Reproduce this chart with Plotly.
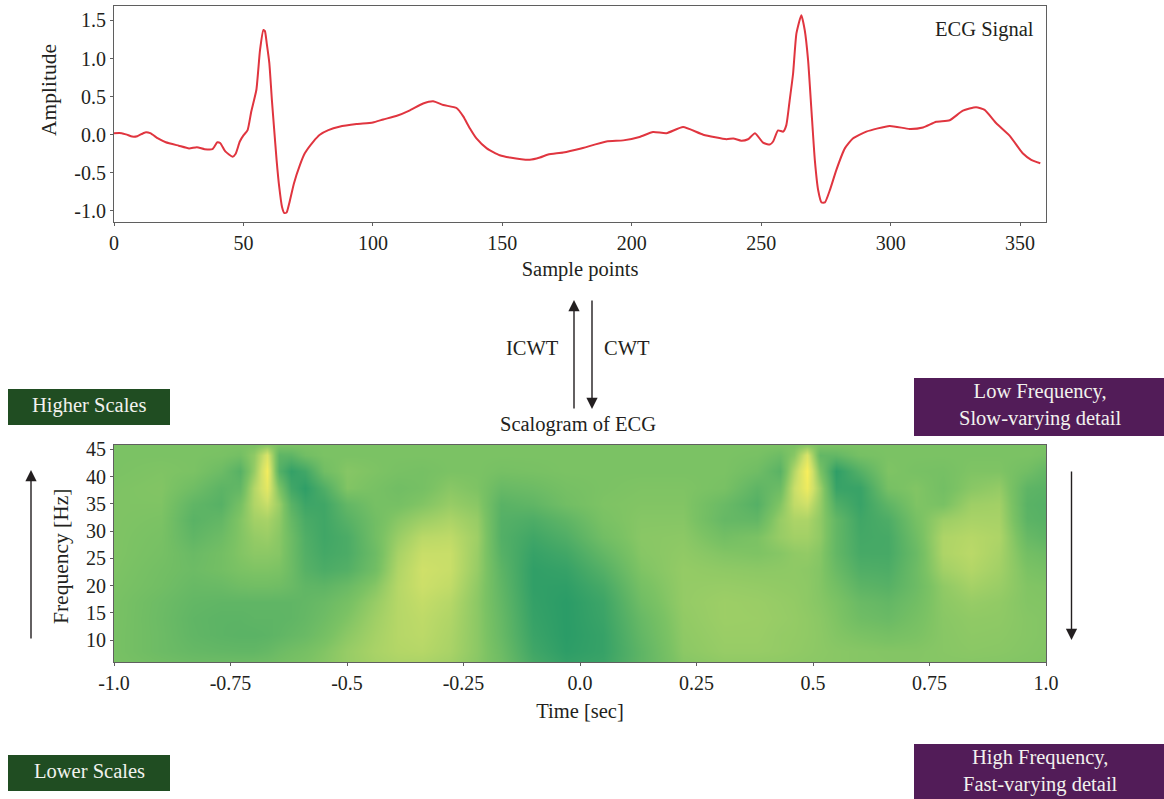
import plotly.graph_objects as go

W, H = 1164, 799

# ---------- ECG signal ----------
ecg_x = [0, 3, 5, 7, 9, 12, 14, 17, 20, 25, 29, 32, 35, 38, 39.9, 41, 43, 45.8, 47, 48.6, 50, 51.6,
         53, 55, 56.4, 57.7, 58.3, 59, 60, 61, 61.8, 62.8, 63.8, 64.9, 65.8, 66.7, 67.7, 69.5, 71.8, 73.7, 77, 79.5,
         82.8, 87, 93.7, 100, 104, 109, 114.3, 119.4, 123.3, 127.2, 132.3, 134.9, 137.5, 140, 144, 149, 152.9,
         160.6, 164.5, 167.7, 173.5, 180, 190.2, 196.7, 203, 208.2, 213.4, 219.8, 227.6, 236.6, 239.2, 242.3,
         244.9, 247.6, 250.7, 253.3, 254.6, 256.5, 258.5, 259.7, 261, 262.3, 263.6, 265.5, 266.8, 268.1, 269.4,
         270.7, 272, 273.3, 274.6, 276.5, 279, 282.3, 285.4, 290.6, 299.6, 307.3, 312.5, 317.6, 322.8, 327.9,
         333, 336.3, 340.8, 346, 351, 354.3, 357.8]
ecg_y = [0.02, 0.02, 0.0, -0.025, -0.02, 0.03, 0.02, -0.05, -0.10, -0.145, -0.18, -0.165, -0.19, -0.19, -0.10, -0.11, -0.22, -0.29, -0.25, -0.09, -0.01, 0.06,
         0.30, 0.59, 1.11, 1.375, 1.36, 1.2, 0.94, 0.45, 0.10, -0.33, -0.68, -0.95, -1.03, -1.02, -0.90, -0.64, -0.40, -0.245, -0.09, 0.0,
         0.06, 0.105, 0.14, 0.16, 0.20, 0.245, 0.32, 0.41, 0.44, 0.39, 0.35, 0.24, 0.08, -0.05, -0.18, -0.27, -0.30,
         -0.33, -0.30, -0.26, -0.235, -0.185, -0.09, -0.075, -0.03, 0.035, 0.02, 0.10, 0.0, -0.06, -0.05, -0.08,
         -0.06, 0.02, -0.105, -0.13, -0.09, 0.055, 0.04, 0.125, 0.455, 0.80, 1.33, 1.57, 1.375, 0.98, 0.32,
         -0.33, -0.73, -0.89, -0.89, -0.73, -0.465, -0.18, -0.05, 0.04, 0.115, 0.075, 0.095, 0.17, 0.19, 0.315,
         0.36, 0.325, 0.15, -0.015, -0.245, -0.33, -0.375]

# ---------- Scalogram (values read by eye, relative units) ----------
time_sec = [-1.0, -0.9, -0.83, -0.77, -0.73, -0.70, -0.672, -0.645, -0.62, -0.59, -0.55, -0.50, -0.44, -0.39, -0.34,
            -0.28, -0.22, -0.17, -0.10, -0.03, 0.05, 0.13, 0.22, 0.31, 0.38, 0.43, 0.46, 0.487, 0.515, 0.55, 0.60,
            0.66, 0.72, 0.78, 0.84, 0.90, 0.96, 1.0]
freq_hz = [6, 8, 11, 14, 17, 20, 23, 26, 29, 32, 35, 38, 41, 44, 45.8]
scal_6 = [-2, -10, -15, -15, -15, -14, -12, -8, -4, 0, 8, 20, 30, 35, 35, 28, 10, -12, -55, -75, -68, -30, 8, 15, 15, 14, 13, 12, 11, 10, 8, 7, 7, 8, 8, 7, 5, 4]
scal_8 = [-3, -15, -22, -25, -26, -26, -22, -15, -10, -5, 5, 20, 33, 40, 42, 33, 12, -15, -62, -82, -72, -30, 12, 20, 20, 18, 16, 14, 12, 10, 8, 6, 6, 9, 11, 10, 7, 5]
scal_11 = [-3, -15, -27, -32, -34, -34, -32, -28, -23, -18, -6, 12, 30, 42, 46, 35, 12, -20, -68, -85, -72, -25, 14, 22, 22, 18, 17, 15, 12, 6, 0, -5, 0, 9, 13, 12, 8, 6]
scal_14 = [-2, -16, -28, -32, -32, -30, -30, -30, -28, -23, -13, 3, 26, 42, 48, 38, 12, -22, -72, -85, -68, -20, 16, 24, 23, 20, 18, 15, 11, 3, -12, -18, -5, 10, 15, 14, 8, 6]
scal_17 = [-2, -15, -25, -28, -28, -28, -28, -28, -28, -25, -18, -5, 20, 42, 52, 42, 12, -25, -75, -85, -65, -12, 18, 24, 22, 19, 17, 13, 8, 0, -18, -25, -10, 12, 20, 16, 6, 5]
scal_20 = [0, -10, -20, -18, -12, -10, -10, -12, -18, -28, -30, -18, 8, 42, 58, 50, 15, -28, -78, -80, -55, -5, 18, 20, 18, 16, 15, 13, 6, -8, -32, -38, -15, 15, 30, 22, 5, 3]
scal_23 = [2, -8, -15, -8, 0, 3, 3, 0, -15, -38, -50, -42, -10, 38, 60, 55, 20, -32, -78, -72, -40, 3, 18, 14, 12, 13, 14, 12, 6, -18, -45, -48, -15, 28, 40, 28, 0, -5]
scal_26 = [3, -5, -18, -8, 5, 12, 12, 8, -15, -42, -58, -50, -15, 32, 55, 55, 22, -38, -72, -60, -25, 8, 15, 5, 2, 8, 15, 17, 8, -25, -55, -55, -18, 36, 45, 32, -8, -15]
scal_29 = [3, -3, -28, -15, 5, 18, 22, 10, -15, -45, -62, -50, -10, 22, 45, 48, 25, -42, -62, -45, -10, 10, 12, -8, 0, 20, 28, 28, 15, -25, -58, -55, -12, 36, 42, 36, -20, -30]
scal_32 = [3, 0, -35, -25, 5, 28, 32, 15, -22, -52, -62, -38, -10, 10, 25, 35, 20, -40, -48, -30, -2, 8, 8, -22, -25, 20, 35, 35, 15, -25, -62, -48, -5, 24, 33, 32, -32, -38]
scal_35 = [3, 3, -28, -38, -5, 38, 55, 22, -35, -65, -62, -25, -5, -5, 5, 20, 10, -35, -28, -10, 2, 5, 5, -18, -40, 5, 50, 60, 20, -45, -70, -30, 3, -2, 25, 28, -35, -40]
scal_38 = [2, 5, -12, -32, -25, 40, 80, 0, -60, -80, -45, 5, -3, -10, -5, 10, 2, -20, -15, -5, 0, 3, 3, -3, -30, -15, 55, 90, 25, -70, -70, -5, 5, -8, 10, 18, -30, -35]
scal_41 = [0, 3, 0, -15, -38, 20, 95, -40, -75, -60, -10, 8, 2, -3, -5, 0, 0, -5, -3, 0, 0, 0, 0, 0, -12, -35, 40, 100, 0, -80, -40, 3, -3, -5, 3, 3, -10, -25]
scal_44 = [0, 0, 0, -2, -8, 15, 70, -30, -30, -10, 0, 0, 0, 0, 0, 0, 0, 0, 0, 0, 0, 0, 0, 0, -3, -15, 10, 70, -25, -25, -5, 0, 0, 0, 0, 0, 0, -5]
scal_46 = [0, 0, 0, 0, 0, 0, 10, 0, 0, 0, 0, 0, 0, 0, 0, 0, 0, 0, 0, 0, 0, 0, 0, 0, 0, 0, 0, 10, 0, 0, 0, 0, 0, 0, 0, 0, 0, 0]
scal_z = [scal_6, scal_8, scal_11, scal_14, scal_17, scal_20, scal_23, scal_26, scal_29, scal_32, scal_35, scal_38, scal_41, scal_44, scal_46]

FONT = "Liberation Serif"
TXT = "#231f20"
AXC = "#5f5f5f"


def px(x):
    return x / W


def py(y):
    return 1 - y / H


def label(text, x, y, size=20.5, color=TXT, angle=0, xanchor="center"):
    return dict(text=text, x=px(x), y=py(y), xref="paper", yref="paper", showarrow=False, textangle=angle,
                xanchor=xanchor, yanchor="middle", align="center", font=dict(family=FONT, size=size, color=color))


def arrow(x0, y0, x1, y1):
    return dict(x=px(x1), y=py(y1), ax=x0 - x1, ay=y0 - y1, xref="paper", yref="paper", axref="pixel", ayref="pixel",
                text="", showarrow=True, arrowhead=2, arrowsize=1.6, arrowwidth=1.4, arrowcolor="#231f20")


def box(x0, y0, x1, y1, color):
    return dict(type="rect", xref="paper", yref="paper", x0=px(x0), x1=px(x1), y0=py(y1), y1=py(y0),
                fillcolor=color, line=dict(width=0))


fig = go.Figure()
fig.add_trace(go.Scatter(x=ecg_x, y=ecg_y, mode="lines", line=dict(color="#e0353f", width=2, shape="spline", smoothing=0.5),
                         xaxis="x", yaxis="y", showlegend=False))
fig.add_trace(go.Heatmap(x=time_sec, y=freq_hz, z=scal_z, zmin=-100, zmax=100, zsmooth="best", showscale=False,
                         colorscale=[[0, "#1c9568"], [0.5, "#7bc264"], [0.8, "#cfe069"], [1, "#f8ee5c"]],
                         xaxis="x2", yaxis="y2"))

axis_common = dict(showgrid=False, zeroline=False, showline=True, mirror=True, linecolor=AXC, linewidth=1,
                   ticks="outside", ticklen=3, tickcolor=AXC, tickwidth=1, automargin=False,
                   tickfont=dict(family=FONT, size=20, color=TXT))
title_font = dict(family=FONT, size=20.5, color=TXT)

fig.update_layout(
    width=W, height=H, autosize=False, margin=dict(l=0, r=0, t=0, b=0),
    paper_bgcolor="white", plot_bgcolor="white", showlegend=False,
    xaxis=dict(domain=[px(114), px(1046)], range=[0, 360], tickvals=[0, 50, 100, 150, 200, 250, 300, 350],
               title=dict(text="Sample points", font=title_font, standoff=8), anchor="y", **axis_common),
    yaxis=dict(domain=[py(222), py(6)], range=[-1.147, 1.69], tickvals=[-1.0, -0.5, 0.0, 0.5, 1.0, 1.5],
               ticktext=["-1.0", "-0.5", "0.0", "0.5", "1.0", "1.5"], anchor="x", **axis_common),
    xaxis2=dict(domain=[px(114), px(1046)], range=[-1, 1], tickvals=[-1, -0.75, -0.5, -0.25, 0, 0.25, 0.5, 0.75, 1],
                ticktext=["-1.0", "-0.75", "-0.5", "-0.25", "0.0", "0.25", "0.5", "0.75", "1.0"],
                title=dict(text="Time [sec]", font=title_font, standoff=10), anchor="y2", **axis_common),
    yaxis2=dict(domain=[py(662), py(445)], range=[6, 45.8], tickvals=[10, 15, 20, 25, 30, 35, 40, 45],
                anchor="x2", **axis_common),
    shapes=[box(8, 389, 170, 425, "#204d22"), box(8, 755, 170, 791, "#204d22"),
            box(914, 378, 1164, 436, "#521c58"), box(914, 744, 1164, 799, "#521c58")],
    annotations=[
        label("Amplitude", 49, 90, 21.5, angle=-90),
        label("Frequency [Hz]", 61, 556, 21.5, angle=-90),
        label("ECG Signal", 984, 30),
        label("ICWT", 532, 348), label("CWT", 627, 348),
        label("Scalogram of ECG", 578, 424),
        label("Higher Scales", 89, 405, color="#f2f2ee"),
        label("Lower Scales", 89, 771, color="#f2f2ee"),
        label("Low Frequency,<br>Slow-varying detail", 1040, 405, color="#f2f2ee"),
        label("High Frequency,<br>Fast-varying detail", 1040, 771, color="#f2f2ee"),
        arrow(574, 410, 574, 300), arrow(592, 299, 592, 409),
        arrow(31, 640, 31, 470), arrow(1071.5, 470, 1071.5, 640),
    ],
)

fig.write_html("out.html", config={"displayModeBar": False}, post_script="document.body.style.margin='0';")
